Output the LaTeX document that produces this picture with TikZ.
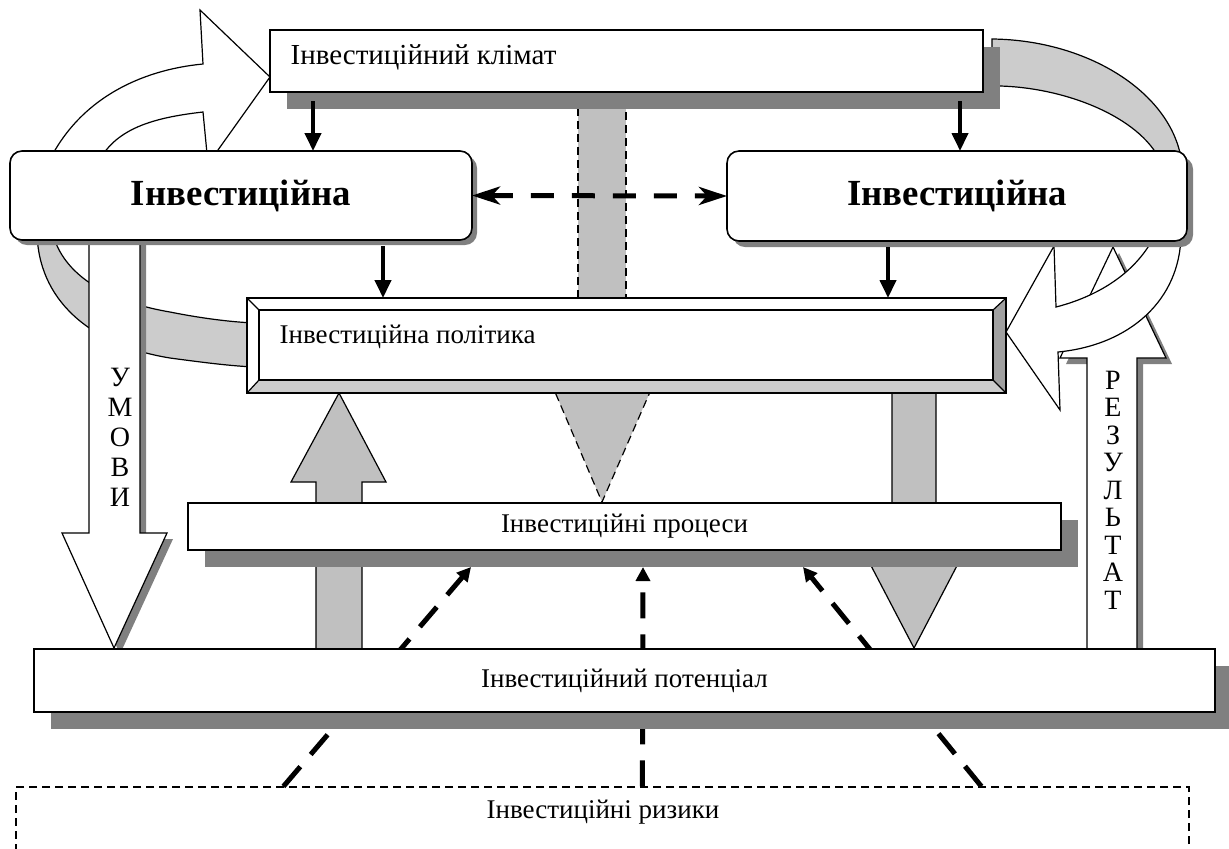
\documentclass[tikz,border=0pt]{standalone}
\usepackage{fontspec}
\setmainfont{Liberation Serif}
\usetikzlibrary{arrows.meta,calc,shadows}
\definecolor{shadowgray}{HTML}{808080}
\definecolor{bandgray}{HTML}{CCCCCC}
\definecolor{arrowgray}{HTML}{C0C0C0}
\definecolor{bevelgray}{HTML}{A0A0A0}
\begin{document}
\begin{tikzpicture}[x=0.5pt,y=-0.5pt,line width=0.6pt,
  box/.style={draw,fill=white,inner sep=0pt,outer sep=0pt},
  txt/.style={font=\fontsize{13.5}{16}\selectfont,inner sep=0pt},
  hardshadow/.style={drop shadow={shadow xshift=#1,shadow yshift=-#1,opacity=1,fill=shadowgray}},
  band/.style={draw,fill=bandgray},
  blockarrow/.style={draw,fill=#1},
  thindash/.style={draw,dash pattern=on 4pt off 2.5pt},
  blackarrow/.style={line width=2pt,-{Triangle[length=9pt,width=8pt]}},
  dasharrow/.style={line width=2.5pt,dash pattern=on 11.5pt off 9pt,{Stealth[length=14pt,width=9pt,inset=4pt]}-{Stealth[length=14pt,width=9pt,inset=4pt]}},
  riskarrow/.style={line width=2.5pt,dash pattern=on 13pt off 8pt,-{Triangle[length=7pt,width=7pt]}}]
\useasboundingbox (0,0) rectangle (1229,848);
% curved bands
\draw[band] (37,230) .. controls (37,300) and (90,345) .. (170,358) .. controls (200,362) and (230,366) .. (255,367)
  -- (255,323) .. controls (230,322) and (200,318) .. (170,312) .. controls (100,300) and (60,270) .. (52,230) -- cycle;
\draw[band] (992,39) .. controls (1090,40) and (1175,95) .. (1182,165) -- (1162,165)
  .. controls (1145,120) and (1070,88) .. (1000,86) -- (992,86) -- cycle;
% curved white arrows
\draw[blockarrow=white] (45,170) .. controls (75,100) and (140,70) .. (203,64) -- (200,10) -- (270,77) -- (208,164)
  -- (203,112) .. controls (150,118) and (110,130) .. (95,170) -- cycle;
\draw[blockarrow=white,hardshadow=3pt] (1087,655) -- (1087,358) -- (1060,358) -- (1113,247) -- (1166,358) -- (1137,358) -- (1137,655) -- cycle;
\draw[blockarrow=white] (1181,235) .. controls (1180,300) and (1130,345) .. (1058,352) -- (1060,410) -- (1006,332)
  -- (1054,246) -- (1056,307) .. controls (1095,297) and (1135,275) .. (1155,235) -- cycle;
\draw[blockarrow=white,hardshadow=3pt] (89,235) -- (89,533) -- (62,533) -- (114,648) -- (167,533) -- (140,533) -- (140,235) -- cycle;
\node[font=\fontsize{14}{15}\selectfont,align=center,inner sep=0pt] (umovy) at (120,437) {У\\М\\О\\В\\И};
\node[font=\fontsize{14}{13.75}\selectfont,align=center,inner sep=0pt] (rezultat) at (1113,490) {Р\\Е\\З\\У\\Л\\Ь\\Т\\А\\Т};
% grey arrows
\draw[blockarrow=arrowgray] (316,655) -- (316,482) -- (291,482) -- (339,393) -- (386,482) -- (362,482) -- (362,655) -- cycle;
\draw[blockarrow=arrowgray] (892,390) -- (892,558) -- (867,558) -- (914,648) -- (961,558) -- (936,558) -- (936,390) -- cycle;
\draw[thindash,fill=arrowgray] (578,95) rectangle (626,298);
\draw[thindash,fill=arrowgray] (555,392) -- (650,392) -- (602,502) -- cycle;
% boxes
\node[box,hardshadow=8.5pt,minimum width=356.5pt,minimum height=31pt] (klimat) at (626.5,61) {};
\node[txt,font=\fontsize{14.5}{17}\selectfont,anchor=west] (klimattxt) at (290,57) {Інвестиційний клімат};
\node[box,rounded corners=6pt,hardshadow=2.5pt,line width=0.8pt,minimum width=231pt,minimum height=44.5pt,
  font=\bfseries\fontsize{18.4}{22}\selectfont] (invL) at (241,195.5) {Інвестиційна};
\node[box,rounded corners=6pt,hardshadow=3pt,line width=0.8pt,minimum width=230pt,minimum height=45pt,
  font=\bfseries\fontsize{18.4}{22}\selectfont] (invR) at (957,196) {Інвестиційна};
\node[box,minimum width=379.5pt,minimum height=47.5pt] (polityka) at (626.5,345.5) {};
\fill[bandgray] (polityka.south west) -- (polityka.south east) -- ([shift={(-13,-13)}]polityka.south east) -- ([shift={(12,-13)}]polityka.south west) -- cycle;
\fill[bevelgray] (polityka.north east) -- (polityka.south east) -- ([shift={(-13,-13)}]polityka.south east) -- ([shift={(-13,12)}]polityka.north east) -- cycle;
\draw[line width=0.9pt] ([shift={(12,12)}]polityka.north west) rectangle ([shift={(-13,-13)}]polityka.south east);
\foreach \c/\s in {north west/{(12,12)},north east/{(-13,12)},south west/{(12,-13)},south east/{(-13,-13)}}
  \draw (polityka.\c) -- ([shift=\s]polityka.\c);
\draw (polityka.north west) rectangle (polityka.south east);
\node[txt,anchor=west] (politykatxt) at (279,337) {Інвестиційна політика};
\node[box,txt,hardshadow=8.5pt,minimum width=436.5pt,minimum height=23.5pt] (procesy) at (624.5,526.5) {Інвестиційні процеси};
\node[thindash,inner sep=0pt,minimum width=586.5pt,minimum height=46.5pt] (ryzyky) at (602.5,833.5) {};
\node[txt] (ryzykytxt) at (603,812) {Інвестиційні ризики};
% risks to processes
\foreach \a/\b in {268/283,627/455,966/615}
  \draw[riskarrow] ($(ryzyky.north west)+(\a,0)$) -- ($(procesy.south west)+(\b,17)$);
\node[box,txt,hardshadow=8.5pt,minimum width=590.5pt,minimum height=31.5pt] (potencial) at (624.5,680.5) {Інвестиційний потенціал};
% black arrows
\foreach \x/\n in {313/invL,960/invR}
  \draw[blackarrow,shorten <=4.5pt] (klimat.south -| \x,0) -- (\n.north -| \x,0);
\foreach \x/\n in {383/invL,888/invR}
  \draw[blackarrow,shorten <=3pt] (\n.south -| \x,0) -- (polityka.north -| \x,0);
\draw[dasharrow] (invL.east) -- (invR.west);
\end{tikzpicture}
\end{document}
